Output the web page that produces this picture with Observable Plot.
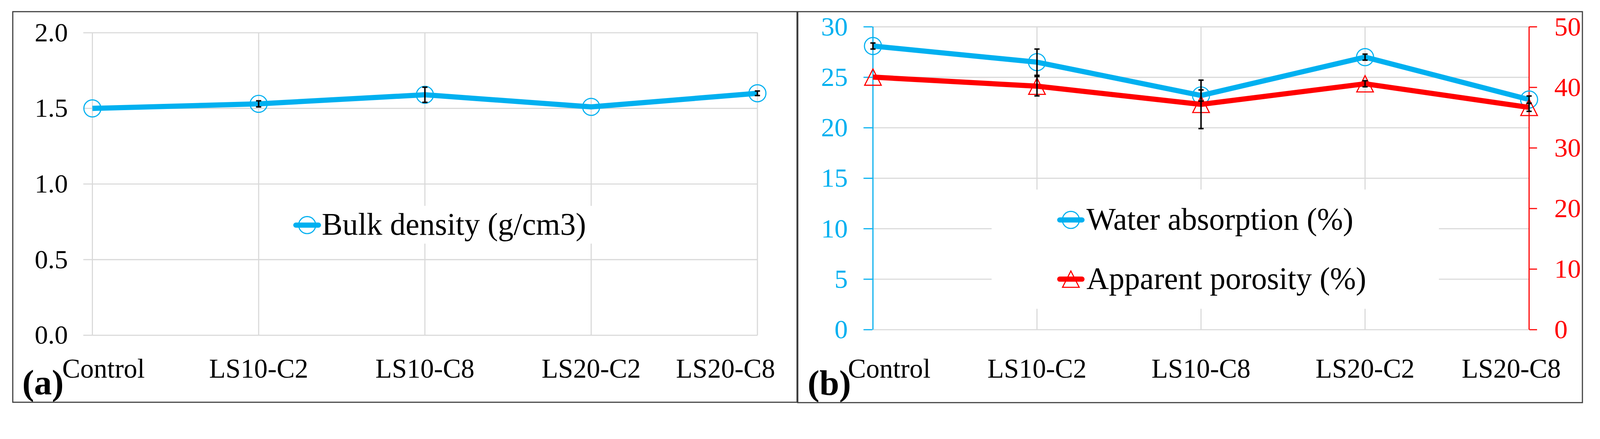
<!DOCTYPE html>
<html>
<head>
<meta charset="utf-8">
<script src="https://cdn.jsdelivr.net/npm/d3@7"></script>
<script src="https://cdn.jsdelivr.net/npm/@observablehq/plot@0.6"></script>
<style>
  html, body { margin: 0; padding: 0; background: #fff; overflow: hidden; }
  #root { position: absolute; left: 0; top: 0; width: 4321px; height: 1124px; transform-origin: 0 0; background: #fff; font-family: "Liberation Serif", "Times New Roman", serif; }
  .panel { position: absolute; }
  .border { position: absolute; box-sizing: border-box; border: 3px solid #3c3c3c; pointer-events: none; }
  #overlay { position: absolute; left: 0; top: 0; pointer-events: none; }
</style>
</head>
<body>
<div id="root">
<div id="a" class="panel" style="left:34px;top:31px;width:2119px;height:1055px"></div>
<div id="b" class="panel" style="left:2155px;top:31px;width:2118px;height:1056px"></div>

<svg id="overlay" width="4321" height="1124" font-family="Liberation Serif, Times New Roman, serif">
  <!-- legend (a) -->
  <rect x="770" y="556" width="875" height="102" fill="#fff"/>
  <line x1="799" x2="860" y1="608" y2="608" stroke="#00B0F0" stroke-width="14" stroke-linecap="round"/>
  <circle cx="829.5" cy="608" r="23" fill="none" stroke="#00B0F0" stroke-width="3"/>
  <text x="869" y="634" font-size="84" fill="#000">Bulk density (g/cm3)</text>
  <!-- legend (b) -->
  <rect x="2678" y="512" width="1208" height="322" fill="#fff"/>
  <line x1="2862" x2="2922" y1="594" y2="594" stroke="#00B0F0" stroke-width="14" stroke-linecap="round"/>
  <circle cx="2892" cy="594" r="23" fill="none" stroke="#00B0F0" stroke-width="3"/>
  <text x="2934" y="620" font-size="84" fill="#000">Water absorption (%)</text>
  <line x1="2862" x2="2922" y1="754" y2="754" stroke="#FF0000" stroke-width="14" stroke-linecap="round"/>
  <path d="M2892,732L2914.5,776L2869.5,776Z" fill="none" stroke="#FF0000" stroke-width="3"/>
  <text x="2934" y="781" font-size="84" fill="#000">Apparent porosity (%)</text>
  <!-- panel letters -->
  <text x="60" y="1066" font-size="96" font-weight="bold" fill="#000">(a)</text>
  <text x="2181" y="1067" font-size="96" font-weight="bold" fill="#000">(b)</text>
</svg>

<div class="border" style="left:33px;top:30px;width:2121px;height:1058px"></div>
<div class="border" style="left:2153px;top:30px;width:2122px;height:1059px"></div>
</div>

<script>
// ---------- data ----------
const categories = ["Control", "LS10-C2", "LS10-C8", "LS20-C2", "LS20-C8"];
const bulkDensity = [1.50, 1.53, 1.59, 1.51, 1.60];
const bulkDensityErr = [0, 0.02, 0.05, 0, 0.015];
const waterAbsorption = [28.1, 26.5, 23.2, 27.0, 22.8];
const waterAbsorptionErr = [0.3, 1.3, 0.55, 0.3, 0.35];
const apparentPorosity = [41.7, 40.2, 37.2, 40.6, 36.7];
const apparentPorosityErr = [0, 1.6, 4.0, 0.5, 0.65];
const bulkTicks = [0, 0.5, 1.0, 1.5, 2.0];
const leftTicks = [0, 5, 10, 15, 20, 25, 30];
const rightTicks = [0, 10, 20, 30, 40, 50];

// ---------- fit the 4321x1124 layout to the viewport ----------
function fit() {
  const s = Math.min(window.innerWidth / 4321, window.innerHeight / 1124);
  document.getElementById("root").style.transform = `scale(${s})`;
}
fit();
window.addEventListener("resize", fit);

// ---------- styling ----------
const blue = "#00B0F0", red = "#FF0000", grid = "#D9D9D9";
const font = "'Liberation Serif', 'Times New Roman', serif";
const capSymbol = { draw(ctx, size) { const r = Math.sqrt(size / Math.PI); ctx.moveTo(-r, 0); ctx.lineTo(r, 0); } };
const triSymbol = { draw(ctx, size) { const r = Math.sqrt(size / Math.PI); ctx.moveTo(0, -r); ctx.lineTo(r * 1.02, r); ctx.lineTo(-r * 1.02, r); ctx.closePath(); } };

function errorMarks(rows, yv, ye) {
  const has = d => ye(d) > 0;
  return [
    Plot.ruleX(rows, { filter: has, x: "c", y1: d => yv(d) - ye(d), y2: d => yv(d) + ye(d), stroke: "black", strokeWidth: 4 }),
    Plot.dot(rows, { filter: has, x: "c", y: d => yv(d) + ye(d), symbol: capSymbol, r: 7, stroke: "black", strokeWidth: 4 }),
    Plot.dot(rows, { filter: has, x: "c", y: d => yv(d) - ye(d), symbol: capSymbol, r: 7, stroke: "black", strokeWidth: 4 })
  ];
}
function xLabels(dyv, firstShift, lastShift) {
  const n = categories.length;
  const base = { x: d => d, frameAnchor: "bottom", lineAnchor: "top", dy: dyv, fontSize: 73, fill: "black" };
  return [
    Plot.text(categories, { ...base, filter: (d, i) => i === 0, dx: firstShift }),
    Plot.text(categories, { ...base, filter: (d, i) => i > 0 && i < n - 1 }),
    Plot.text(categories, { ...base, filter: (d, i) => i === n - 1, dx: lastShift })
  ];
}

// ---------- panel (a) ----------
const rowsA = categories.map((c, i) => ({ c, v: bulkDensity[i], e: bulkDensityErr[i] }));
const plotA = Plot.plot({
  width: 2119, height: 1055,
  marginLeft: 214, marginRight: 107, marginTop: 57, marginBottom: 181,
  style: { fontFamily: font, background: "transparent", overflow: "visible" },
  x: { type: "point", domain: categories, padding: 0, axis: null },
  y: { domain: [0, 2], label: null },
  marks: [
    Plot.gridX(categories, { stroke: grid, strokeOpacity: 1, strokeWidth: 3 }),
    Plot.gridY(bulkTicks, { stroke: grid, strokeOpacity: 1, strokeWidth: 3 }),
    Plot.axisY(bulkTicks, { tickSize: 23, tickPadding: 42, stroke: grid, strokeOpacity: 1, strokeWidth: 3, fill: "black", fontSize: 72, tickFormat: d3.format(".1f"), label: null }),
    ...xLabels(63, 30, -86),
    Plot.line(rowsA, { x: "c", y: "v", stroke: blue, strokeWidth: 14, strokeLinejoin: "round", strokeLinecap: "butt" }),
    Plot.dot(rowsA, { x: "c", y: "v", r: 23, stroke: blue, strokeWidth: 3, fill: "none" }),
    ...errorMarks(rowsA, d => d.v, d => d.e)
  ]
});
document.getElementById("a").appendChild(plotA);

// ---------- panel (b) ----------
const k = leftTicks[leftTicks.length - 1] / rightTicks[rightTicks.length - 1]; // right axis -> left axis
const rowsB = categories.map((c, i) => ({
  c, wa: waterAbsorption[i], waE: waterAbsorptionErr[i],
  ap: apparentPorosity[i], apE: apparentPorosityErr[i]
}));
const plotB = Plot.plot({
  width: 2118, height: 1056,
  marginLeft: 201, marginRight: 144, marginTop: 41, marginBottom: 197,
  style: { fontFamily: font, background: "transparent", overflow: "visible" },
  x: { type: "point", domain: categories, padding: 0, axis: null },
  y: { domain: [0, 30], label: null },
  marks: [
    Plot.gridX(categories, { stroke: grid, strokeOpacity: 1, strokeWidth: 3 }),
    Plot.gridY(leftTicks, { stroke: grid, strokeOpacity: 1, strokeWidth: 3 }),
    Plot.ruleX([categories[0]], { stroke: blue, strokeWidth: 3 }),
    Plot.ruleX([categories[categories.length - 1]], { stroke: red, strokeWidth: 3 }),
    Plot.axisY(leftTicks, { anchor: "left", tickSize: 24, tickPadding: 43, stroke: blue, strokeWidth: 3, fill: blue, fontSize: 72, label: null }),
    Plot.axisY(rightTicks.map(t => t * k), { anchor: "right", tickSize: 21, tickPadding: 47, stroke: red, strokeWidth: 3, fill: red, fontSize: 72, tickFormat: d => String(Math.round(d / k)), label: null }),
    ...xLabels(78, 44, -48),
    Plot.line(rowsB, { x: "c", y: "wa", stroke: blue, strokeWidth: 14, strokeLinejoin: "round", strokeLinecap: "butt" }),
    Plot.dot(rowsB, { x: "c", y: "wa", r: 23, stroke: blue, strokeWidth: 3, fill: "none" }),
    Plot.line(rowsB, { x: "c", y: d => d.ap * k, stroke: red, strokeWidth: 14, strokeLinejoin: "round", strokeLinecap: "butt" }),
    Plot.dot(rowsB, { x: "c", y: d => d.ap * k, symbol: triSymbol, r: 22, stroke: red, strokeWidth: 3, fill: "none" }),
    ...errorMarks(rowsB, d => d.wa, d => d.waE),
    ...errorMarks(rowsB, d => d.ap * k, d => d.apE * k)
  ]
});
document.getElementById("b").appendChild(plotB);
</script>
</body>
</html>
